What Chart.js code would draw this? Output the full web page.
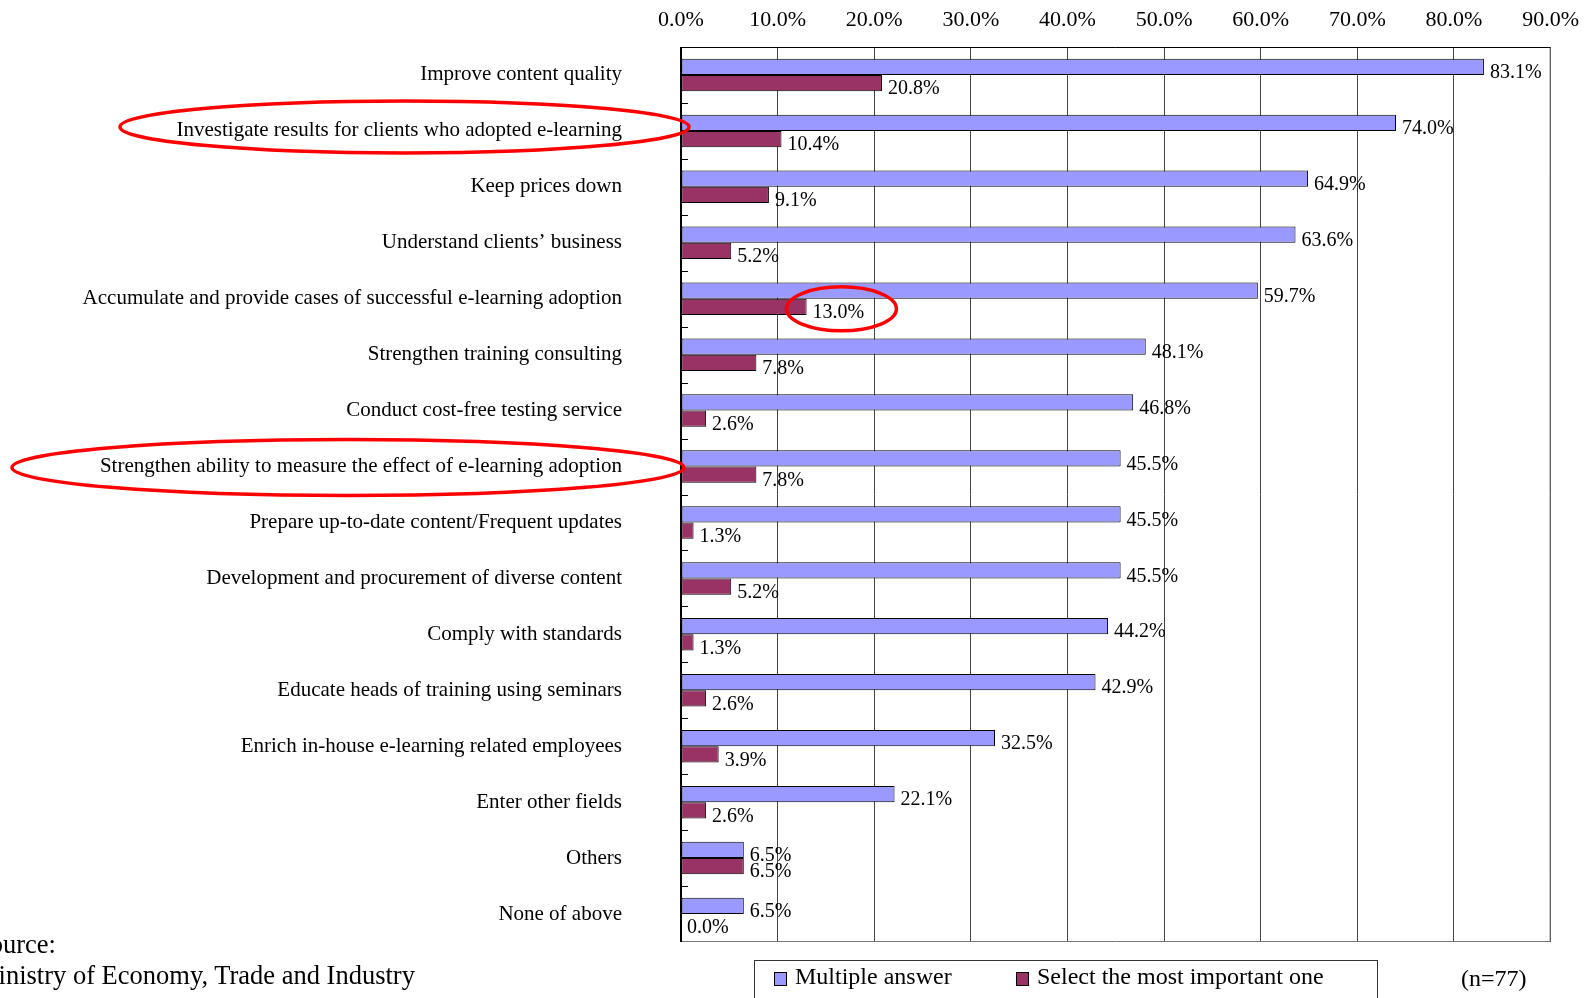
<!DOCTYPE html>
<html>
<head>
<meta charset="utf-8">
<script src="https://cdn.jsdelivr.net/npm/chart.js@4/dist/chart.umd.min.js"></script>
<style>
  html, body { margin: 0; padding: 0; background: #fff; overflow: hidden; }
  body { position: relative; width: 1593px; height: 998px; font-family: 'Liberation Serif', 'Times New Roman', serif; color: #000; }
  #chart { position: absolute; left: 0; top: 0; }
  .source { position: absolute; left: -25px; top: 929px; font-size: 26.5px; line-height: 31px; white-space: nowrap; }
  .legend { position: absolute; left: 754px; top: 960px; width: 624px; height: 60px; border: 1px solid #333; box-sizing: border-box; }
  .legend .sq { position: absolute; top: 11px; width: 11px; height: 12px; border: 1px solid #000; }
  .legend .txt { position: absolute; top: 3px; font-size: 24px; line-height: 24px; white-space: nowrap; }
  .count { position: absolute; left: 1461px; top: 966px; font-size: 24px; line-height: 24px; }
</style>
</head>
<body>
<canvas id="chart" width="1593" height="998"></canvas>
<div class="source">Source:<br>Ministry of Economy, Trade and Industry</div>
<div class="legend">
  <div class="sq" style="left:19px;background:#9999ff"></div><div class="txt" style="left:40px">Multiple answer</div>
  <div class="sq" style="left:261px;background:#993366"></div><div class="txt" style="left:282px">Select the most important one</div>
</div>
<div class="count">(n=77)</div>
<script>
const categories = [
    'Improve content quality',
    'Investigate results for clients who adopted e-learning',
    'Keep prices down',
    'Understand clients\u2019 business',
    'Accumulate and provide cases of successful e-learning adoption',
    'Strengthen training consulting',
    'Conduct cost-free testing service',
    'Strengthen ability to measure the effect of e-learning adoption',
    'Prepare up-to-date content/Frequent updates',
    'Development and procurement of diverse content',
    'Comply with standards',
    'Educate heads of training using seminars',
    'Enrich in-house e-learning related employees',
    'Enter other fields',
    'Others',
    'None of above'
];
const multipleAnswer = [83.1, 74.0, 64.9, 63.6, 59.7, 48.1, 46.8, 45.5, 45.5, 45.5, 44.2, 42.9, 32.5, 22.1, 6.5, 6.5];
const mostImportant = [20.8, 10.4, 9.1, 5.2, 13.0, 7.8, 2.6, 7.8, 1.3, 5.2, 1.3, 2.6, 3.9, 2.6, 6.5, 0.0];
const tickValues = [0, 10, 20, 30, 40, 50, 60, 70, 80, 90];

const serif = "'Liberation Serif', 'Times New Roman', serif";

// red hand-drawn style highlights
const labelHighlights = [
    { cat: 1, x0: 120, x1: 689, dy: -4, ry: 26 },
    { cat: 7, x0: 12, x1: 684, dy: 1, ry: 28 }
];
const valueHighlights = [
    { dataset: 1, cat: 4, dx: 3, dy: -4, rx: 55, ry: 22 }
];

const overlay = {
    id: 'overlay',
    afterDatasetsDraw(chart) {
        const { ctx, chartArea: a, scales: { y } } = chart;
        ctx.save();

        // small inner ticks between categories
        ctx.strokeStyle = '#000';
        ctx.lineWidth = 1;
        for (let i = 1; i < categories.length; i++) {
            const py = Math.round((y.getPixelForValue(i - 1) + y.getPixelForValue(i)) / 2) + 0.5;
            ctx.beginPath();
            ctx.moveTo(a.left, py);
            ctx.lineTo(a.left + 7, py);
            ctx.stroke();
        }

        // frame
        ctx.strokeStyle = '#777';
        ctx.beginPath();
        ctx.moveTo(a.right - 0.5, a.top);
        ctx.lineTo(a.right - 0.5, a.bottom - 0.5);
        ctx.lineTo(a.left, a.bottom - 0.5);
        ctx.stroke();
        ctx.strokeStyle = '#000';
        ctx.beginPath();
        ctx.moveTo(a.right, a.top + 0.5);
        ctx.lineTo(a.left, a.top + 0.5);
        ctx.stroke();
        ctx.lineWidth = 2;
        ctx.beginPath();
        ctx.moveTo(a.left, a.top);
        ctx.lineTo(a.left, a.bottom);
        ctx.stroke();

        // value labels
        ctx.font = '20px ' + serif;
        ctx.fillStyle = '#000';
        ctx.textAlign = 'left';
        ctx.textBaseline = 'middle';
        const labelPos = [];
        chart.data.datasets.forEach((ds, di) => {
            labelPos[di] = [];
            chart.getDatasetMeta(di).data.forEach((bar, i) => {
                const text = ds.data[i].toFixed(1) + '%';
                const lx = bar.x + 6;
                const ly = bar.y + 6;
                ctx.fillText(text, lx, ly);
                labelPos[di][i] = { cx: lx + ctx.measureText(text).width / 2, cy: ly };
            });
        });

        // highlights
        ctx.strokeStyle = '#ff0000';
        ctx.lineWidth = 3.5;
        labelHighlights.forEach(h => {
            const cy = y.getPixelForValue(h.cat) + h.dy;
            ctx.beginPath();
            ctx.ellipse((h.x0 + h.x1) / 2, cy, (h.x1 - h.x0) / 2, h.ry, 0, 0, Math.PI * 2);
            ctx.stroke();
        });
        valueHighlights.forEach(h => {
            const p = labelPos[h.dataset][h.cat];
            ctx.beginPath();
            ctx.ellipse(p.cx + h.dx, p.cy + h.dy, h.rx, h.ry, 0, 0, Math.PI * 2);
            ctx.stroke();
        });

        ctx.restore();
    }
};

new Chart(document.getElementById('chart'), {
    type: 'bar',
    data: {
        labels: categories,
        datasets: [{
            label: 'Multiple answer',
            data: multipleAnswer,
            backgroundColor: '#9999ff',
            borderColor: '#000',
            borderWidth: 1,
            borderSkipped: false
        }, {
            label: 'Select the most important one',
            data: mostImportant,
            backgroundColor: '#993366',
            borderColor: '#000',
            borderWidth: 1,
            borderSkipped: false
        }]
    },
    options: {
        indexAxis: 'y',
        responsive: false,
        animation: false,
        devicePixelRatio: 1,
        layout: { padding: { left: 0, right: 41, top: 0, bottom: 56 } },
        datasets: { bar: { categoryPercentage: 0.58, barPercentage: 1.0 } },
        plugins: {
            legend: { display: false },
            tooltip: { enabled: false }
        },
        scales: {
            x: {
                position: 'top',
                min: 0,
                max: 90,
                afterBuildTicks(s) { s.ticks = tickValues.map(v => ({ value: v })); },
                afterFit(s) { s.height = 47; },
                ticks: {
                    callback: v => v.toFixed(1) + '%',
                    font: { family: serif, size: 22 },
                    color: '#000',
                    padding: 14,
                    maxRotation: 0
                },
                grid: { color: '#444', lineWidth: 1, drawTicks: false },
                border: { display: false }
            },
            y: {
                afterFit(s) {
                    s.width = 681;
                    s.paddingTop = 0;
                    s.paddingBottom = 0;
                },
                ticks: {
                    autoSkip: false,
                    font: { family: serif, size: 21 },
                    color: '#000',
                    padding: 59
                },
                grid: { display: false, drawTicks: false },
                border: { display: false }
            }
        }
    },
    plugins: [overlay]
});
</script>
</body>
</html>
